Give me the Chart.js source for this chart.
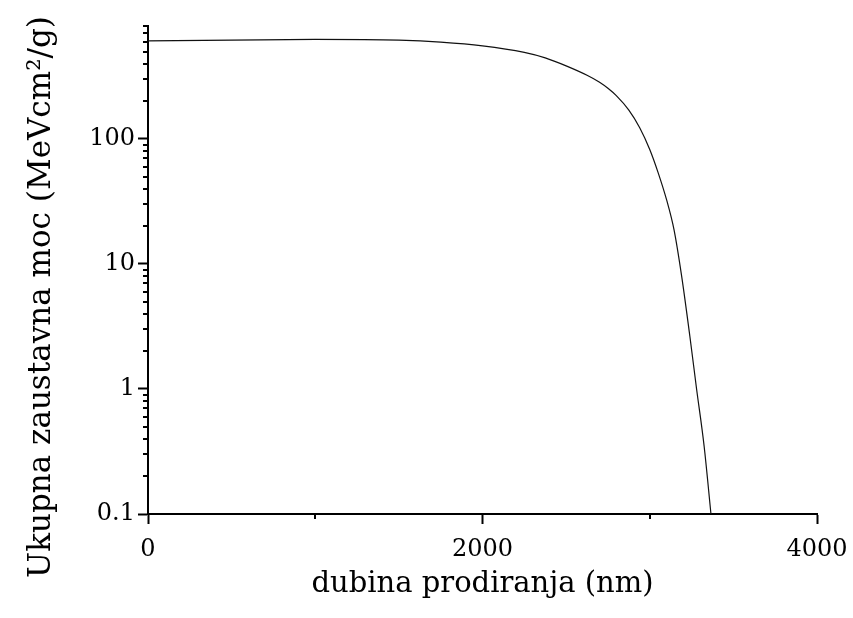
<!DOCTYPE html>
<html>
<head>
<meta charset="utf-8">
<script src="https://cdn.jsdelivr.net/npm/chart.js@4/dist/chart.umd.min.js"></script>
<style>
  html, body { margin: 0; padding: 0; background: #fff; }
  #wrap { width: 853px; height: 618px; }
</style>
</head>
<body>
<div id="wrap"><canvas id="c" width="853" height="618"></canvas></div>
<script>
// depth (nm)
const depth = [0, 500, 1000, 1500, 1750, 2000, 2250, 2375, 2500, 2625, 2700, 2750, 2800, 2875, 2940, 3000, 3050, 3100, 3145, 3190, 3240, 3280, 3325, 3366];
// total stopping power (MeV cm^2/g)
const stoppingPower = [608, 616, 625, 616, 594, 555, 492, 445, 384, 323, 284, 254, 222, 170, 123, 82.4, 53.8, 32.8, 18.8, 8.1, 2.63, 1.0, 0.35, 0.1];

const xTickValues = [0, 1000, 2000, 3000, 4000];
const xLabelValues = [0, 2000, 4000];
const yTickValues = [0.1,0.2,0.3,0.4,0.5,0.6,0.7,0.8,0.9,1,2,3,4,5,6,7,8,9,10,20,30,40,50,60,70,80,90,100,200,300,400,500,600,700,800];
const yLabelValues = [0.1, 1, 10, 100];
const yTitle = 'Ukupna zaustavna moc (MeVcm²/g)';
const xTitle = 'dubina prodiranja (nm)';

const FONT = "'DejaVu Serif', 'Liberation Serif', serif";

const extras = {
  id: 'extras',
  afterDraw(chart) {
    const ctx = chart.ctx;
    const xs = chart.scales.x, ys = chart.scales.y;
    ctx.save();
    ctx.strokeStyle = '#000';
    ctx.lineWidth = 2;
    ctx.beginPath();
    yTickValues.forEach(v => {
      if (yLabelValues.includes(v)) return;
      const p = Math.round(ys.getPixelForValue(v));
      ctx.moveTo(ys.right - 5, p);
      ctx.lineTo(ys.right, p);
    });
    xTickValues.forEach(v => {
      if (xLabelValues.includes(v)) return;
      const p = Math.round(xs.getPixelForValue(v));
      ctx.moveTo(p, xs.top);
      ctx.lineTo(p, xs.top + 5);
    });
    ctx.stroke();
    // y axis title
    ctx.fillStyle = '#000';
    ctx.font = "31px " + FONT;
    ctx.textAlign = 'center';
    ctx.textBaseline = 'middle';
    ctx.translate(42, 297);
    ctx.rotate(-Math.PI / 2);
    ctx.fillText(yTitle, 0, 0);
    ctx.restore();
  }
};

new Chart(document.getElementById('c'), {
  type: 'line',
  data: {
    datasets: [{
      data: depth.map((d, i) => ({ x: d, y: stoppingPower[i] })),
      borderColor: '#111',
      borderWidth: 1.2,
      pointRadius: 0,
      cubicInterpolationMode: 'monotone',
      fill: false
    }]
  },
  options: {
    responsive: false,
    animation: false,
    devicePixelRatio: 1,
    layout: { padding: { left: 0, right: 36, top: 26, bottom: 0 } },
    plugins: { legend: { display: false }, tooltip: { enabled: false } },
    scales: {
      x: {
        type: 'linear',
        min: 0, max: 4000,
        afterFit(s) { s.height = 104; s.paddingLeft = 0; s.paddingRight = 0; },
        afterBuildTicks(s) { s.ticks = xTickValues.map(v => ({ value: v })); },
        border: { display: true, color: '#000', width: 2 },
        grid: {
          drawOnChartArea: false, drawTicks: true, tickLength: 10, tickWidth: 2,
          tickColor: c => (c.tick && xLabelValues.includes(c.tick.value)) ? '#000' : 'rgba(0,0,0,0)'
        },
        ticks: {
          autoSkip: false, maxRotation: 0, padding: 11, color: '#000',
          font: { family: FONT, size: 24 },
          callback: v => xLabelValues.includes(v) ? String(v) : ''
        },
        title: {
          display: true, text: xTitle, color: '#000',
          font: { family: FONT, size: 29 },
          padding: { top: 0, bottom: 16 }
        }
      },
      y: {
        type: 'logarithmic',
        min: 0.1, max: 800,
        afterFit(s) { s.width = 148; s.paddingTop = 0; s.paddingBottom = 0; },
        afterBuildTicks(s) { s.ticks = yTickValues.map(v => ({ value: v })); },
        border: { display: true, color: '#000', width: 2 },
        grid: {
          drawOnChartArea: false, drawTicks: true, tickLength: 10, tickWidth: 2,
          tickColor: c => (c.tick && yLabelValues.includes(c.tick.value)) ? '#000' : 'rgba(0,0,0,0)'
        },
        ticks: {
          autoSkip: false, padding: 3, color: '#000',
          font: { family: FONT, size: 24 },
          callback: v => yLabelValues.includes(v) ? String(v) : ''
        },
        title: { display: false }
      }
    }
  },
  plugins: [extras]
});
</script>
</body>
</html>
